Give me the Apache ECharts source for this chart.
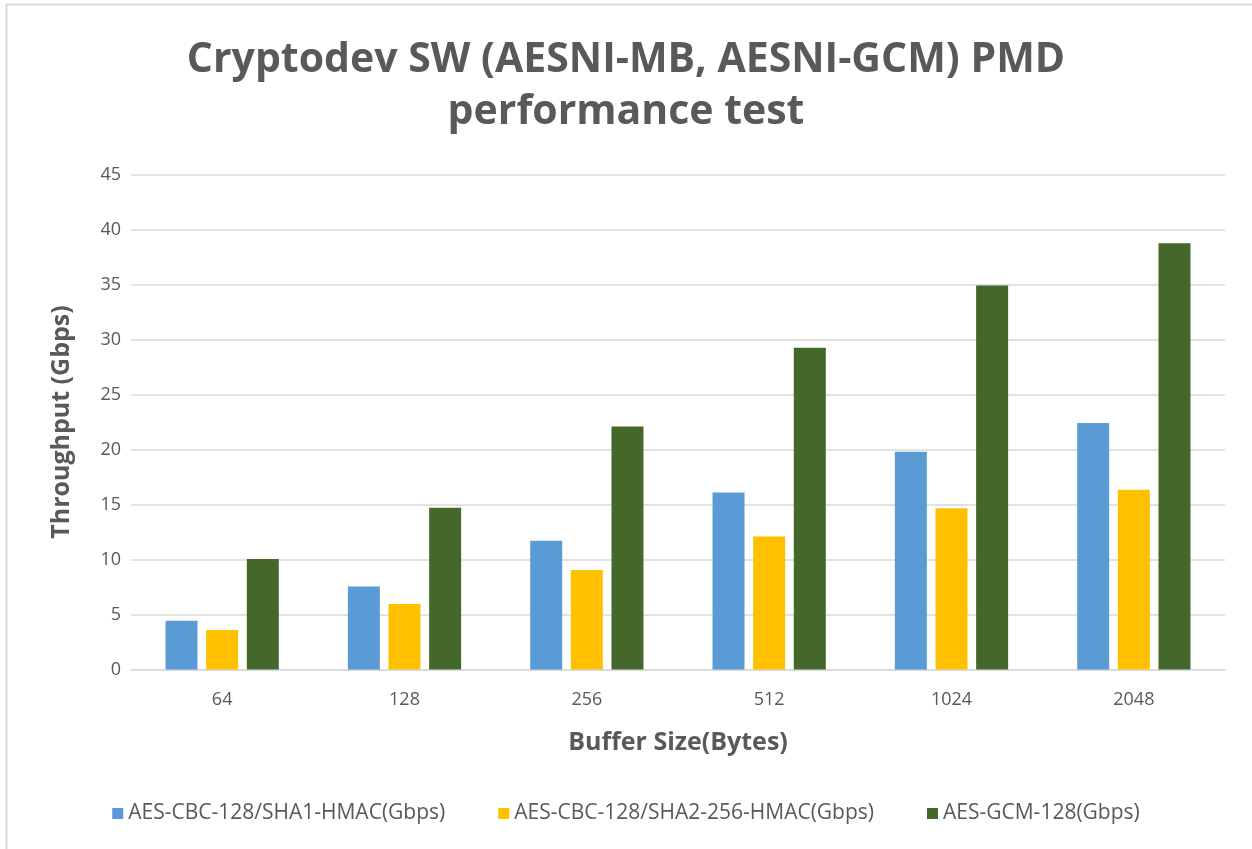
<!DOCTYPE html>
<html>
<head>
<meta charset="utf-8">
<script src="https://cdn.jsdelivr.net/npm/echarts@6/dist/echarts.min.js"></script>
<style>
html,body{margin:0;padding:0;background:#fff;}
#chart{width:1252px;height:849px;}
</style>
</head>
<body>
<div id="chart"></div>
<script>
const categories = ['64', '128', '256', '512', '1024', '2048'];
const seriesNames = ['AES-CBC-128/SHA1-HMAC(Gbps)', 'AES-CBC-128/SHA2-256-HMAC(Gbps)', 'AES-GCM-128(Gbps)'];
const sha1Values = [4.44, 7.55, 11.7, 16.1, 19.8, 22.4];
const sha256Values = [3.59, 5.95, 9.05, 12.1, 14.65, 16.35];
const gcmValues = [10.05, 14.7, 22.1, 29.25, 34.9, 38.75];
const yTicks = [0, 5, 10, 15, 20, 25, 30, 35, 40, 45];
const colors = ['#5b9bd5', '#ffc000', '#44682c'];

const chart = echarts.init(document.getElementById('chart'), null, {renderer: 'canvas'});
const labelFont = 'Open Sans';
const dataSets = [sha1Values, sha256Values, gcmValues];
chart.setOption({
  backgroundColor: '#ffffff',
  animation: false,
  color: colors,
  graphic: [{
    type: 'rect',
    shape: {x: 6.5, y: 4.5, width: 1300, height: 900},
    style: {fill: 'none', stroke: '#d9d9d9', lineWidth: 2},
    silent: true
  }],
  title: {
    text: 'Cryptodev SW (AESNI-MB, AESNI-GCM) PMD\nperformance test',
    left: 'center',
    top: 29,
    textStyle: {
      fontFamily: labelFont,
      fontWeight: 'bold',
      fontSize: 41,
      lineHeight: 52,
      color: '#595959'
    }
  },
  legend: {
    bottom: 20,
    left: 'center',
    itemWidth: 11,
    itemHeight: 11,
    itemGap: 53,
    icon: 'rect',
    textStyle: {fontFamily: labelFont, fontSize: 21, color: '#595959', padding: [0, 0, 0, 0]},
    data: seriesNames
  },
  grid: {left: 131, right: 27, top: 174.5, bottom: 179.5, containLabel: false},
  xAxis: {
    type: 'category',
    data: categories,
    axisLine: {show: true, lineStyle: {color: '#d9d9d9', width: 1.5}},
    axisTick: {show: false},
    axisLabel: {fontFamily: labelFont, fontSize: 18, color: '#595959', margin: 21},
    name: 'Buffer Size(Bytes)',
    nameLocation: 'middle',
    nameGap: 61,
    nameTextStyle: {fontFamily: labelFont, fontSize: 25, fontWeight: 'bold', color: '#595959'}
  },
  yAxis: {
    type: 'value',
    min: yTicks[0],
    max: yTicks[yTicks.length - 1],
    interval: yTicks[1] - yTicks[0],
    axisLine: {show: false},
    axisTick: {show: false},
    splitLine: {lineStyle: {color: '#d9d9d9', width: 1.5}},
    axisLabel: {fontFamily: labelFont, fontSize: 18, color: '#595959', margin: 10},
    name: 'Throughput (Gbps)',
    nameLocation: 'middle',
    nameGap: 57,
    nameTextStyle: {fontFamily: labelFont, fontSize: 25, fontWeight: 'bold', color: '#595959'}
  },
  series: seriesNames.map((n, i) => ({
    name: n,
    type: 'bar',
    data: dataSets[i],
    barWidth: 32,
    barGap: '27%',
    itemStyle: {color: colors[i]}
  }))
});
</script>
</body>
</html>
